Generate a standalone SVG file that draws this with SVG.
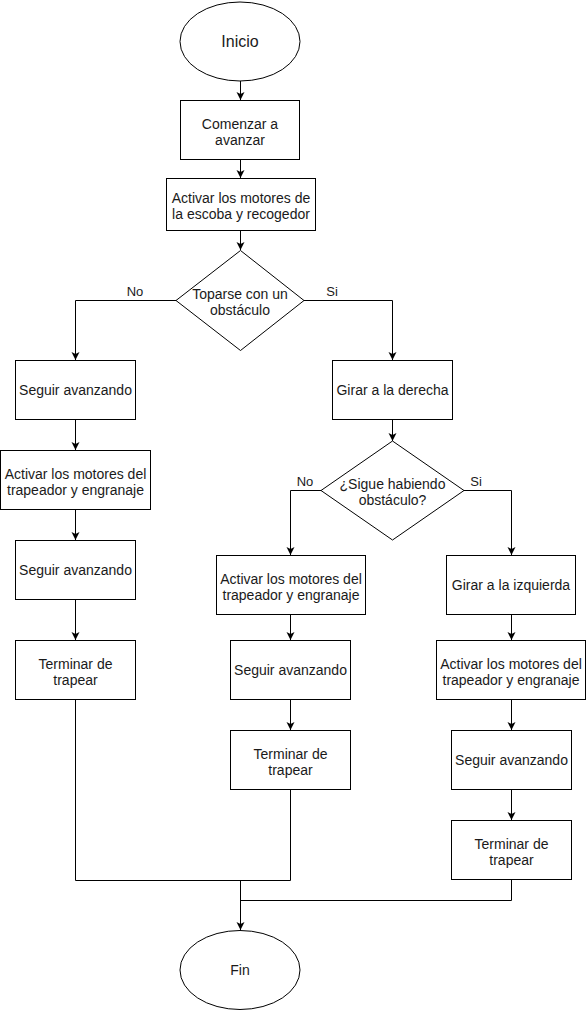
<svg xmlns="http://www.w3.org/2000/svg" width="586" height="1011" viewBox="0 0 586 1011">
<style>
.s{fill:#fff;stroke:#000;stroke-width:1}
.c{fill:none;stroke:#000;stroke-width:1}
text{font-family:"Liberation Sans",Arial,sans-serif;font-size:14px;fill:#1a1a1a;text-anchor:middle}
.big{font-size:16px}
.lbl{font-size:13px}
</style>
<defs>
<marker id="a" markerUnits="userSpaceOnUse" markerWidth="10" markerHeight="10" refX="8" refY="4" orient="auto">
<path d="M0,0 L8,4 L0,8 L2,4 z" fill="#000"/>
</marker>
</defs>
<rect width="586" height="1011" fill="#fff"/>
<g id="connectors">
<path class="c" d="M240.5,81 V100" marker-end="url(#a)"/>
<path class="c" d="M240.5,160 V178" marker-end="url(#a)"/>
<path class="c" d="M240.5,231 V250" marker-end="url(#a)"/>
<path class="c" d="M176,300.5 H75.5 V360" marker-end="url(#a)"/>
<path class="c" d="M304,300.5 H392.5 V360" marker-end="url(#a)"/>
<path class="c" d="M75.5,420 V450" marker-end="url(#a)"/>
<path class="c" d="M75.5,510 V540" marker-end="url(#a)"/>
<path class="c" d="M75.5,600 V640" marker-end="url(#a)"/>
<path class="c" d="M392.5,420 V441" marker-end="url(#a)"/>
<path class="c" d="M321,490.5 H290.5 V555" marker-end="url(#a)"/>
<path class="c" d="M464,490.5 H511.5 V555" marker-end="url(#a)"/>
<path class="c" d="M290.5,615 V640" marker-end="url(#a)"/>
<path class="c" d="M290.5,700 V730" marker-end="url(#a)"/>
<path class="c" d="M511.5,615 V640" marker-end="url(#a)"/>
<path class="c" d="M511.5,700 V730" marker-end="url(#a)"/>
<path class="c" d="M511.5,790 V820" marker-end="url(#a)"/>
<path class="c" d="M75.5,700 V880.5 H290.5 V790"/>
<path class="c" d="M511.5,880 V900.5 H240.5"/>
<path class="c" d="M240.5,880.5 V930" marker-end="url(#a)"/>
<text class="lbl" x="135" y="296">No</text>
<text class="lbl" x="332" y="296">Si</text>
<text class="lbl" x="305" y="486">No</text>
<text class="lbl" x="476" y="486">Si</text>
</g>
<g id="inicio"><ellipse class="s" cx="240" cy="41.5" rx="60" ry="39.5"/><text class="big" x="240" y="47">Inicio</text></g>
<g id="comenzar"><rect class="s" x="180.5" y="100.5" width="119" height="59"/><text x="240" y="129">Comenzar a</text><text x="240" y="145">avanzar</text></g>
<g id="activar1"><rect class="s" x="166.5" y="178.5" width="149" height="52"/><text x="241" y="203">Activar los motores de</text><text x="241" y="219">la escoba y recogedor</text></g>
<g id="toparse"><path class="s" d="M240.5,250.5 L304,300.5 L240.5,350.5 L176,300.5 z"/><text x="240" y="299">Toparse con un</text><text x="240" y="315">obstáculo</text></g>
<g id="seguir1"><rect class="s" x="15.5" y="360.5" width="120" height="59"/><text x="75.5" y="395">Seguir avanzando</text></g>
<g id="activar2"><rect class="s" x="0.5" y="450.5" width="150" height="59"/><text x="75.5" y="479">Activar los motores del</text><text x="75.5" y="495">trapeador y engranaje</text></g>
<g id="seguir2"><rect class="s" x="15.5" y="540.5" width="120" height="59"/><text x="75.5" y="575">Seguir avanzando</text></g>
<g id="terminar1"><rect class="s" x="15.5" y="640.5" width="120" height="59"/><text x="75.5" y="669">Terminar de</text><text x="75.5" y="685">trapear</text></g>
<g id="girar-derecha"><rect class="s" x="332.5" y="360.5" width="120" height="59"/><text x="392.5" y="395">Girar a la derecha</text></g>
<g id="sigue"><path class="s" d="M392.5,441 L464,490.5 L392.5,540 L321,490.5 z"/><text x="392.5" y="489">¿Sigue habiendo</text><text x="392.5" y="505">obstáculo?</text></g>
<g id="activar3"><rect class="s" x="216.5" y="555.5" width="149" height="59"/><text x="291" y="584">Activar los motores del</text><text x="291" y="600">trapeador y engranaje</text></g>
<g id="seguir3"><rect class="s" x="230.5" y="640.5" width="120" height="59"/><text x="290.5" y="675">Seguir avanzando</text></g>
<g id="terminar2"><rect class="s" x="230.5" y="730.5" width="120" height="59"/><text x="290.5" y="759">Terminar de</text><text x="290.5" y="775">trapear</text></g>
<g id="girar-izquierda"><rect class="s" x="446.5" y="555.5" width="129" height="59"/><text x="511" y="590">Girar a la izquierda</text></g>
<g id="activar4"><rect class="s" x="436.5" y="640.5" width="149" height="59"/><text x="511" y="669">Activar los motores del</text><text x="511" y="685">trapeador y engranaje</text></g>
<g id="seguir4"><rect class="s" x="451.5" y="730.5" width="120" height="59"/><text x="511.5" y="765">Seguir avanzando</text></g>
<g id="terminar3"><rect class="s" x="451.5" y="820.5" width="120" height="59"/><text x="511.5" y="849">Terminar de</text><text x="511.5" y="865">trapear</text></g>
<g id="fin"><ellipse class="s" cx="240" cy="970" rx="60" ry="39.5"/><text x="240" y="975">Fin</text></g>
</svg>
